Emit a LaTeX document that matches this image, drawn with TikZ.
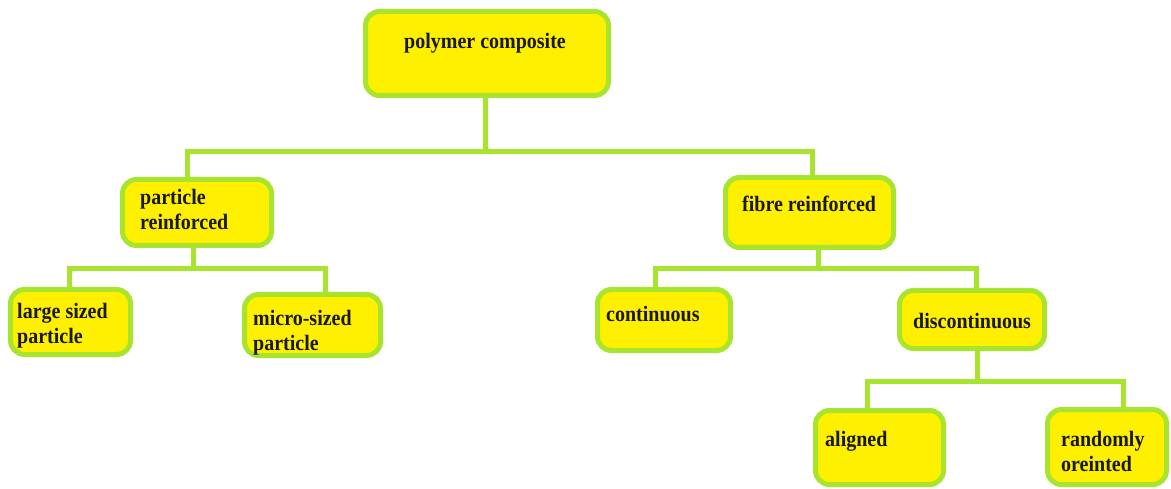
\documentclass[tikz,border=0pt]{standalone}
\usepackage{graphicx}
\usepackage{fontspec}
\setmainfont{Liberation Serif}
\definecolor{boxfill}{RGB}{255,240,0}
\definecolor{boxline}{RGB}{168,228,46}
\definecolor{txt}{RGB}{25,25,20}
\newcommand{\tallword}[1]{\scalebox{1}[1.1]{#1}}
\begin{document}
\begin{tikzpicture}[x=1pt,y=-1pt,
  box/.style={draw=boxline,fill=boxfill,line width=5pt,rounded corners=14pt,inner sep=0pt},
  conn/.style={draw=boxline,line width=5pt},
  lbl/.style={anchor=base west,inner sep=0pt,align=left,text=txt,font=\bfseries\fontsize{20}{25}\selectfont}]
\useasboundingbox (0,0) rectangle (1171,489);
% boxes
\node[box,minimum width=243pt,minimum height=84pt] (pc) at (487,53.5) {};
\node[box,minimum width=149pt,minimum height=66pt] (pr) at (197,212.5) {};
\node[box,minimum width=168pt,minimum height=70pt] (fr) at (809.5,212.5) {};
\node[box,minimum width=120pt,minimum height=65pt] (ls) at (70.5,322) {};
\node[box,minimum width=136pt,minimum height=61pt] (ms) at (312.5,325) {};
\node[box,minimum width=133pt,minimum height=61pt] (co) at (664,320) {};
\node[box,minimum width=145pt,minimum height=58pt] (dc) at (972,319.5) {};
\node[box,minimum width=128pt,minimum height=74pt] (al) at (879.5,447.5) {};
\node[box,minimum width=119pt,minimum height=75pt] (ro) at (1107,447) {};
% labels (multi-line labels are anchored at the baseline of their last line)
\node[lbl] (pct) at (404,49) {\tallword{polymer composite}};
\node[lbl] (prt) at (140,230) {\tallword{particle}\\\tallword{reinforced}};
\node[lbl] (frt) at (742,212) {\tallword{fibre reinforced}};
\node[lbl] (lst) at (17,343) {\tallword{large sized}\\\tallword{particle}};
\node[lbl] (mst) at (253,350) {\tallword{micro-sized}\\\tallword{particle}};
\node[lbl] (cot) at (606,322) {\tallword{continuous}};
\node[lbl] (dct) at (913,328) {\tallword{discontinuous}};
\node[lbl] (alt) at (825,446) {\tallword{aligned}};
\node[lbl] (rot) at (1061,471) {\tallword{randomly}\\\tallword{oreinted}};
% buses
\coordinate (b1m) at (485,152);
\coordinate (b1l) at (187,152);
\coordinate (b1r) at (812,152);
\coordinate (b2m) at (193,269);
\coordinate (b2l) at (69,269);
\coordinate (b2r) at (325,269);
\coordinate (b3m) at (818,269);
\coordinate (b3l) at (655,269);
\coordinate (b3r) at (976,269);
\coordinate (b4m) at (977,381);
\coordinate (b4l) at (867,381);
\coordinate (b4r) at (1123,381);
\draw[conn] (b1m |- pc.south) -- (b1m);
\draw[conn] (b1l |- pr.north) -- (b1l) -- (b1r) -- (b1r |- fr.north);
\draw[conn] (b2m |- pr.south) -- (b2m);
\draw[conn] (b2l |- ls.north) -- (b2l) -- (b2r) -- (b2r |- ms.north);
\draw[conn] (b3m |- fr.south) -- (b3m);
\draw[conn] (b3l |- co.north) -- (b3l) -- (b3r) -- (b3r |- dc.north);
\draw[conn] (b4m |- dc.south) -- (b4m);
\draw[conn] (b4l |- al.north) -- (b4l) -- (b4r) -- (b4r |- ro.north);
\end{tikzpicture}
\end{document}
